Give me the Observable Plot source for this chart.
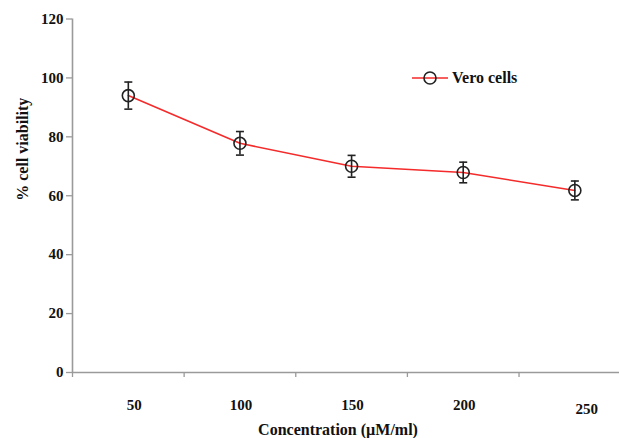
<!DOCTYPE html>
<html>
<head>
<meta charset="utf-8">
<script src="https://cdn.jsdelivr.net/npm/d3@7"></script>
<script src="https://cdn.jsdelivr.net/npm/@observablehq/plot@0.6"></script>
<style>
  html, body { margin: 0; padding: 0; background: #fff; }
  #wrap { position: relative; width: 619px; height: 438px; font-family: "Liberation Serif", "Times New Roman", serif; }
  #legend { position: absolute; left: 410px; top: 68px; display: flex; align-items: center; font-weight: bold; font-size: 16px; color: #111; font-family: "Liberation Serif", "Times New Roman", serif; }
  #legend svg { margin-right: 2px; }
  svg text { font-family: "Liberation Serif", "Times New Roman", serif !important; }
</style>
</head>
<body>
<div id="wrap"><div id="legend"></div></div>
<script>
// ---- data ----
const concentrations = [50, 100, 150, 200, 250];
const viability = [94.0, 77.8, 70.0, 67.9, 61.8];
const sd = [4.6, 4.0, 3.7, 3.5, 3.2];
const xTickLabels = ["50", "100", "150", "200", "250"];
const xBoundaryTicks = [25, 75, 125, 175, 225];
const yTicks = [0, 20, 40, 60, 80, 100, 120];
const seriesName = "Vero cells";
const xTitle = "Concentration (\u00b5M/ml)";
const yTitle = "% cell viability";

const data = concentrations.map((c, i) => ({c, v: viability[i], lo: viability[i] - sd[i], hi: viability[i] + sd[i]}));
const labelFor = d => xTickLabels[concentrations.indexOf(d)];

const lineColor = "#f52a2a";
const markColor = "#222";
const axisColor = "#9a9a9a";
const serif = "'Liberation Serif', 'Times New Roman', serif";

const capSymbol = {
  draw(context, size) {
    const r = Math.sqrt(size / Math.PI);
    context.moveTo(-r, 0);
    context.lineTo(r, 0);
  }
};

const labelStyle = {tickSize: 0, tickFormat: labelFor, label: null, fill: "#111", fontFamily: serif, fontSize: 15};

const chart = Plot.plot({
  width: 619,
  height: 438,
  marginLeft: 72,
  marginRight: 0,
  marginTop: 18.5,
  marginBottom: 66,
  style: {fontFamily: serif, fontSize: "15px", fontWeight: "bold", color: "#111", background: "#fff"},
  x: {domain: [25, 270]},
  y: {domain: [0, 120]},
  marks: [
    Plot.ruleX([25], {stroke: axisColor, strokeWidth: 1.6}),
    Plot.ruleY([0], {stroke: axisColor, strokeWidth: 1.6}),
    Plot.axisY({ticks: yTicks, tickSize: 6, tickPadding: 3, stroke: axisColor, strokeWidth: 1.3, label: null, fill: "#111", fontFamily: serif, fontSize: 15}),
    Plot.axisX({ticks: xBoundaryTicks, tickSize: 5, tickFormat: () => "", stroke: axisColor, strokeWidth: 1.3, label: null}),
    Plot.axisX({...labelStyle, ticks: concentrations.slice(1, 4), tickPadding: 27, dx: 1}),
    Plot.axisX({...labelStyle, ticks: concentrations.slice(0, 1), tickPadding: 27, dx: 6}),
    Plot.axisX({...labelStyle, ticks: concentrations.slice(4), tickPadding: 31, dx: 12}),
    Plot.text([xTitle], {frameAnchor: "bottom", dy: 62, dx: -8, fontSize: 16, fontWeight: "bold", fill: "#111", fontFamily: serif}),
    Plot.text([yTitle], {frameAnchor: "left", rotate: -90, dx: -50, dy: 5, fontSize: 16, fontWeight: "bold", fill: "#111", fontFamily: serif}),
    Plot.line(data, {x: "c", y: "v", stroke: lineColor, strokeWidth: 1.6}),
    Plot.ruleX(data, {x: "c", y1: "lo", y2: "hi", stroke: markColor, strokeWidth: 1.6}),
    Plot.dot(data, {x: "c", y: "lo", symbol: capSymbol, r: 4, stroke: markColor, strokeWidth: 1.6, fill: "none"}),
    Plot.dot(data, {x: "c", y: "hi", symbol: capSymbol, r: 4, stroke: markColor, strokeWidth: 1.6, fill: "none"}),
    Plot.dot(data, {x: "c", y: "v", r: 6, stroke: markColor, strokeWidth: 1.6, fill: "none"})
  ]
});

const wrap = document.getElementById("wrap");
wrap.insertBefore(chart, wrap.firstChild);

// legend
const legend = document.getElementById("legend");
legend.innerHTML = `<svg width="40" height="20" viewBox="0 0 40 20"><line x1="2" y1="10" x2="38" y2="10" stroke="${lineColor}" stroke-width="1.6"/><circle cx="20" cy="10" r="6" fill="none" stroke="${markColor}" stroke-width="1.6"/></svg><span>${seriesName}</span>`;
</script>
</body>
</html>
